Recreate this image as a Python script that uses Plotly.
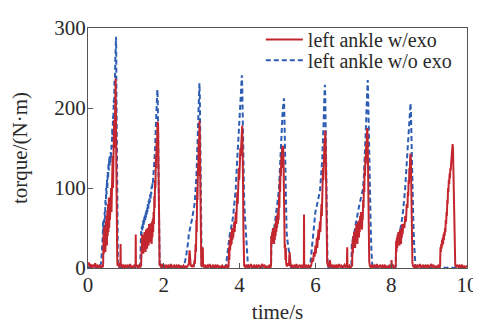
import plotly.graph_objects as go

# ---- data: (time s, torque N·m) ----
red_seg0 = [(0.00,3),(0.02,7),(0.04,1),(0.07,5),(0.10,0),(0.13,4),(0.16,1),(0.19,6),(0.22,0),(0.25,3),(0.28,1),(0.31,4),(0.34,0),(0.37,2),(0.39,1)]
red_step1 = [(0.40,5),(0.41,42),(0.42,18),(0.43,52),(0.44,25),(0.45,47),(0.46,20),(0.47,58),(0.48,30),(0.49,65),(0.50,28),(0.51,72),(0.52,40),(0.53,80),(0.54,45),(0.55,88),(0.56,50),(0.57,85),(0.58,60),(0.59,95),(0.60,62),(0.61,100),(0.62,70),(0.63,120),(0.64,85),(0.65,140),(0.66,100),(0.67,160),(0.68,120),(0.69,185),(0.70,150),(0.71,205),(0.72,170),(0.73,237),(0.735,200),(0.74,160),(0.75,110),(0.76,55),(0.77,15),(0.78,3)]
red_seg1 = [(0.80,6),(0.82,1),(0.84,4),(0.855,2),(0.86,30),(0.865,3),(0.88,5),(0.90,0),(0.93,3),(0.96,1),(0.99,4),(1.02,0),(1.05,3),(1.08,1),(1.11,5),(1.14,0),(1.17,2),(1.20,1),(1.23,4),(1.255,1),(1.26,42),(1.265,2),(1.29,3),(1.32,0),(1.35,4),(1.38,1)]
red_step2 = [(1.40,3),(1.41,38),(1.42,15),(1.43,42),(1.44,20),(1.45,35),(1.46,18),(1.47,40),(1.48,22),(1.49,45),(1.50,25),(1.51,38),(1.52,20),(1.53,48),(1.54,28),(1.55,42),(1.56,24),(1.57,50),(1.58,30),(1.59,45),(1.60,28),(1.61,55),(1.62,35),(1.63,50),(1.64,32),(1.65,56),(1.66,35),(1.67,55),(1.68,30),(1.69,58),(1.70,38),(1.71,62),(1.72,45),(1.73,70),(1.74,55),(1.75,90),(1.76,75),(1.77,110),(1.78,100),(1.79,140),(1.80,125),(1.81,160),(1.82,150),(1.83,175),(1.84,183),(1.85,178),(1.86,130),(1.87,70),(1.88,20),(1.89,4)]
red_seg2 = [(1.92,2),(1.95,5),(1.98,0),(2.01,3),(2.04,1),(2.07,4),(2.10,0),(2.13,3),(2.16,1),(2.19,5),(2.22,0),(2.25,2),(2.28,4),(2.31,0),(2.34,3),(2.37,1),(2.40,4),(2.43,0),(2.46,2),(2.49,1),(2.52,3),(2.55,0),(2.58,2),(2.61,1),(2.64,3)]
red_step3 = [(2.66,5),(2.68,22),(2.69,8),(2.70,18),(2.71,3),(2.74,2),(2.77,4),(2.79,1),(2.81,10),(2.82,5),(2.84,30),(2.85,20),(2.86,60),(2.87,45),(2.88,100),(2.89,85),(2.90,130),(2.91,115),(2.92,160),(2.93,150),(2.94,184),(2.95,170),(2.96,120),(2.97,60),(2.98,15),(2.99,3),(3.01,2),(3.02,5),(3.03,26),(3.035,3)]
red_seg3 = [(3.06,1),(3.09,4),(3.12,0),(3.15,3),(3.18,1),(3.21,5),(3.24,0),(3.27,2),(3.30,4),(3.33,0),(3.36,3),(3.39,1),(3.42,4),(3.45,0),(3.48,2),(3.51,1),(3.54,3),(3.57,0),(3.60,2),(3.63,1),(3.66,3),(3.69,0),(3.71,2)]
red_step4 = [(3.72,26),(3.73,10),(3.74,35),(3.75,22),(3.76,40),(3.77,28),(3.78,45),(3.79,30),(3.80,50),(3.81,35),(3.82,48),(3.83,38),(3.84,55),(3.85,40),(3.86,58),(3.87,45),(3.88,62),(3.89,50),(3.90,70),(3.91,55),(3.92,80),(3.93,65),(3.94,95),(3.95,80),(3.96,110),(3.97,95),(3.98,125),(3.99,110),(4.00,140),(4.01,125),(4.02,150),(4.03,140),(4.04,160),(4.05,150),(4.06,170),(4.07,178),(4.08,160),(4.09,110),(4.10,50),(4.11,12),(4.12,3)]
red_seg4 = [(4.15,1),(4.18,4),(4.21,0),(4.24,3),(4.27,1),(4.30,5),(4.33,0),(4.36,2),(4.39,4),(4.42,0),(4.45,3),(4.48,1),(4.51,4),(4.54,0),(4.57,2),(4.60,5),(4.63,1),(4.66,3),(4.69,0),(4.72,2),(4.75,1),(4.78,3),(4.81,0)]
red_step5 = [(4.83,3),(4.835,40),(4.85,30),(4.86,45),(4.87,32),(4.88,50),(4.89,35),(4.90,42),(4.91,30),(4.92,48),(4.93,35),(4.94,55),(4.95,40),(4.96,60),(4.97,45),(4.98,65),(4.99,50),(5.00,68),(5.01,55),(5.02,75),(5.03,60),(5.04,90),(5.05,75),(5.06,110),(5.07,95),(5.08,125),(5.09,115),(5.10,140),(5.11,125),(5.12,150),(5.13,140),(5.14,153),(5.15,150),(5.16,130),(5.17,90),(5.18,50),(5.19,25),(5.20,30),(5.21,10),(5.22,25),(5.23,5),(5.25,2),(5.28,6),(5.30,3),(5.32,20),(5.33,4),(5.35,1)]
red_seg5 = [(5.38,4),(5.41,0),(5.44,3),(5.47,1),(5.50,5),(5.53,0),(5.56,2),(5.59,4),(5.62,0),(5.65,3),(5.68,1),(5.695,2),(5.70,67),(5.705,2),(5.73,1),(5.76,4),(5.79,0),(5.82,3),(5.85,1),(5.88,2)]
red_step6 = [(5.90,6),(5.92,12),(5.94,8),(5.96,20),(5.98,14),(6.00,28),(6.01,18),(6.02,32),(6.03,22),(6.04,38),(6.05,25),(6.06,42),(6.07,30),(6.08,48),(6.09,35),(6.10,52),(6.11,40),(6.12,58),(6.13,45),(6.14,65),(6.15,55),(6.16,80),(6.17,65),(6.18,100),(6.19,85),(6.20,125),(6.21,110),(6.22,145),(6.23,130),(6.24,160),(6.25,150),(6.26,172),(6.27,160),(6.28,120),(6.29,70),(6.30,30),(6.31,8),(6.33,3),(6.36,2),(6.38,10),(6.39,4),(6.41,1)]
red_seg6 = [(6.44,3),(6.47,0),(6.50,4),(6.53,1),(6.56,3),(6.59,0),(6.62,5),(6.65,1),(6.68,3),(6.71,0),(6.74,2),(6.77,4),(6.80,1),(6.83,2),(6.84,26),(6.845,2),(6.87,0),(6.90,3),(6.93,1),(6.96,2)]
red_step7 = [(6.97,3),(6.98,34),(6.99,18),(7.00,40),(7.01,25),(7.02,45),(7.03,30),(7.04,38),(7.05,25),(7.06,50),(7.07,32),(7.08,55),(7.09,35),(7.10,45),(7.11,30),(7.12,58),(7.13,40),(7.14,52),(7.15,38),(7.16,60),(7.17,45),(7.18,65),(7.19,50),(7.20,70),(7.21,55),(7.22,62),(7.23,48),(7.24,68),(7.25,60),(7.26,85),(7.27,75),(7.28,105),(7.29,95),(7.30,125),(7.31,115),(7.32,140),(7.33,130),(7.34,155),(7.35,150),(7.36,170),(7.37,175),(7.38,160),(7.39,120),(7.40,70),(7.41,30),(7.42,8),(7.44,2),(7.47,1)]
red_seg7 = [(7.50,4),(7.53,0),(7.56,3),(7.59,1),(7.62,5),(7.65,0),(7.68,2),(7.71,4),(7.74,0),(7.77,3),(7.80,1),(7.83,4),(7.86,0),(7.89,2),(7.92,1),(7.95,3),(7.98,0),(8.00,2),(8.01,10),(8.02,1),(8.05,3),(8.08,0),(8.11,2)]
red_step8 = [(8.12,3),(8.13,34),(8.14,20),(8.15,38),(8.16,25),(8.17,42),(8.18,30),(8.19,45),(8.20,32),(8.21,40),(8.22,28),(8.23,48),(8.24,35),(8.25,44),(8.26,30),(8.27,50),(8.28,38),(8.29,55),(8.30,42),(8.31,48),(8.33,55),(8.35,50),(8.37,65),(8.39,58),(8.41,80),(8.43,75),(8.44,95),(8.45,90),(8.46,110),(8.47,105),(8.48,125),(8.49,120),(8.50,138),(8.51,143),(8.52,135),(8.53,100),(8.54,60),(8.55,25),(8.56,6),(8.58,2),(8.61,1)]
red_seg8 = [(8.64,4),(8.67,0),(8.70,3),(8.73,1),(8.76,5),(8.79,0),(8.82,2),(8.85,4),(8.88,0),(8.91,3),(8.94,1),(8.97,4),(9.00,0),(9.03,2),(9.06,5),(9.09,1),(9.12,3),(9.15,0),(9.18,2),(9.21,1),(9.24,3),(9.27,0)]
red_step9 = [(9.29,3),(9.30,26),(9.31,20),(9.32,30),(9.33,24),(9.34,35),(9.35,28),(9.36,38),(9.37,30),(9.38,42),(9.39,35),(9.40,45),(9.41,40),(9.42,50),(9.43,45),(9.44,60),(9.45,55),(9.46,70),(9.47,65),(9.48,85),(9.49,80),(9.50,100),(9.51,95),(9.52,110),(9.53,105),(9.54,118),(9.55,112),(9.56,125),(9.57,122),(9.58,130),(9.59,140),(9.60,148),(9.61,150),(9.62,155),(9.63,150),(9.64,130),(9.65,100),(9.66,70),(9.67,40),(9.68,15),(9.69,3)]
red_seg9 = [(9.72,2),(9.75,4),(9.78,0),(9.81,3),(9.84,1),(9.87,4),(9.90,0),(9.93,2),(9.96,1),(10.0,3)]

blue_seg0 = [(0.00,0),(0.05,2),(0.10,0),(0.15,1),(0.20,0),(0.25,2),(0.30,0),(0.33,3)]
blue_step1 = [(0.35,8),(0.37,20),(0.39,40),(0.40,58),(0.41,45),(0.42,60),(0.43,50),(0.44,70),(0.45,62),(0.46,85),(0.47,78),(0.48,100),(0.49,92),(0.50,110),(0.51,100),(0.52,120),(0.53,112),(0.54,130),(0.55,122),(0.56,138),(0.57,128),(0.58,140),(0.59,132),(0.60,145),(0.61,138),(0.62,155),(0.63,150),(0.64,175),(0.65,165),(0.66,190),(0.67,185),(0.68,210),(0.69,205),(0.70,235),(0.71,230),(0.72,260),(0.73,275),(0.74,289),(0.745,270),(0.75,220),(0.76,150),(0.77,70),(0.78,20),(0.79,3)]
blue_seg1 = [(0.82,0),(0.85,1),(0.90,0),(0.95,2),(1.00,0),(1.05,1),(1.10,0),(1.15,2),(1.20,0),(1.25,1),(1.30,0),(1.35,2)]
blue_step2 = [(1.38,5),(1.39,30),(1.40,46),(1.41,40),(1.42,52),(1.43,46),(1.44,56),(1.45,50),(1.46,60),(1.47,54),(1.48,63),(1.49,57),(1.50,66),(1.51,60),(1.52,69),(1.53,63),(1.54,72),(1.55,67),(1.56,76),(1.57,70),(1.58,80),(1.59,74),(1.60,84),(1.61,78),(1.62,88),(1.63,82),(1.64,92),(1.65,86),(1.66,96),(1.67,92),(1.68,102),(1.69,98),(1.70,106),(1.71,104),(1.72,112),(1.73,118),(1.74,128),(1.75,132),(1.76,140),(1.77,148),(1.78,165),(1.79,180),(1.80,195),(1.81,205),(1.82,215),(1.83,223),(1.84,210),(1.85,170),(1.86,110),(1.87,50),(1.88,10),(1.89,2)]
blue_seg2 = [(1.92,0),(1.95,1),(2.00,0),(2.05,2),(2.10,0),(2.15,1),(2.20,0),(2.25,2),(2.30,0),(2.35,1),(2.40,0),(2.45,2),(2.50,0)]
blue_step3 = [(2.53,3),(2.56,8),(2.59,15),(2.62,24),(2.64,32),(2.66,42),(2.68,48),(2.69,52),(2.70,50),(2.72,56),(2.74,60),(2.76,64),(2.78,68),(2.80,76),(2.82,84),(2.84,95),(2.85,104),(2.86,115),(2.87,128),(2.88,145),(2.89,160),(2.90,178),(2.91,195),(2.92,210),(2.93,222),(2.94,231),(2.95,215),(2.96,170),(2.97,110),(2.98,55),(2.99,15),(3.00,3)]
blue_seg3 = [(3.03,0),(3.08,1),(3.13,0),(3.18,2),(3.23,0),(3.28,1),(3.33,0),(3.38,2),(3.43,0),(3.48,1),(3.53,0),(3.58,2),(3.62,0)]
blue_step4 = [(3.64,3),(3.66,10),(3.68,20),(3.70,30),(3.72,38),(3.74,42),(3.76,46),(3.78,50),(3.80,56),(3.82,62),(3.84,70),(3.86,78),(3.88,86),(3.90,100),(3.91,112),(3.92,123),(3.93,132),(3.94,140),(3.95,148),(3.96,155),(3.97,160),(3.98,170),(3.99,180),(4.00,188),(4.01,196),(4.02,205),(4.03,214),(4.04,226),(4.05,236),(4.06,241),(4.07,225),(4.08,190),(4.09,150),(4.10,115),(4.12,85),(4.14,65),(4.16,45),(4.18,25),(4.20,10),(4.22,3)]
blue_seg4 = [(4.25,0),(4.30,1),(4.35,0),(4.40,2),(4.45,0),(4.50,1),(4.55,0),(4.60,2),(4.65,0),(4.70,1),(4.75,0),(4.80,2)]
blue_step5 = [(4.83,3),(4.84,38),(4.86,42),(4.88,48),(4.90,45),(4.92,52),(4.94,58),(4.96,65),(4.98,72),(5.00,80),(5.02,90),(5.04,100),(5.05,112),(5.06,125),(5.07,140),(5.08,150),(5.09,158),(5.10,165),(5.11,172),(5.12,180),(5.13,190),(5.14,198),(5.15,205),(5.16,210),(5.17,212),(5.18,195),(5.19,160),(5.20,120),(5.21,85),(5.22,60),(5.24,45),(5.26,35),(5.28,30),(5.30,25),(5.32,15),(5.34,5)]
blue_seg5 = [(5.36,0),(5.41,1),(5.46,0),(5.51,2),(5.56,0),(5.61,1),(5.66,0),(5.71,2),(5.76,0),(5.81,1),(5.84,0)]
blue_step6 = [(5.86,2),(5.88,12),(5.90,25),(5.92,38),(5.94,50),(5.96,58),(5.98,64),(6.00,70),(6.02,74),(6.04,80),(6.06,84),(6.08,88),(6.10,92),(6.12,96),(6.14,108),(6.16,118),(6.17,123),(6.18,135),(6.19,148),(6.20,158),(6.21,165),(6.22,185),(6.23,205),(6.24,220),(6.25,229),(6.26,215),(6.27,175),(6.28,130),(6.29,85),(6.30,45),(6.31,15),(6.32,3)]
blue_seg6 = [(6.35,0),(6.40,1),(6.45,0),(6.50,2),(6.55,0),(6.60,1),(6.65,0),(6.70,2),(6.75,0),(6.80,1),(6.85,0),(6.90,2),(6.94,0)]
blue_step7 = [(6.95,2),(6.96,30),(6.98,34),(7.00,36),(7.02,42),(7.04,48),(7.06,54),(7.08,60),(7.10,66),(7.12,70),(7.14,74),(7.16,79),(7.18,83),(7.20,88),(7.22,92),(7.24,96),(7.26,100),(7.28,115),(7.29,125),(7.30,132),(7.31,140),(7.32,155),(7.33,170),(7.34,184),(7.35,200),(7.36,215),(7.37,228),(7.38,235),(7.39,220),(7.40,190),(7.42,140),(7.44,90),(7.46,50),(7.48,20),(7.50,5)]
blue_seg7 = [(7.53,0),(7.58,1),(7.63,0),(7.68,2),(7.73,0),(7.78,1),(7.83,0),(7.88,2),(7.93,0),(7.98,1),(8.03,0),(8.08,2),(8.11,0)]
blue_step8 = [(8.12,2),(8.13,28),(8.15,30),(8.17,32),(8.19,35),(8.21,40),(8.23,45),(8.25,50),(8.27,55),(8.29,62),(8.31,70),(8.33,78),(8.35,88),(8.37,100),(8.39,116),(8.40,125),(8.41,132),(8.42,140),(8.43,148),(8.44,155),(8.45,163),(8.46,170),(8.47,176),(8.48,184),(8.49,192),(8.50,200),(8.51,206),(8.52,195),(8.53,165),(8.54,135),(8.56,95),(8.58,65),(8.60,34),(8.62,10),(8.64,2)]
blue_seg8 = [(8.67,0),(8.75,1),(8.85,0),(8.95,1),(9.05,0),(9.15,1),(9.25,0),(9.35,1),(9.45,0),(9.55,1),(9.65,0),(9.75,1),(9.85,0),(10.0,1)]

red_parts = [red_seg0, red_step1, red_seg1, red_step2, red_seg2, red_step3, red_seg3,
             red_step4, red_seg4, red_step5, red_seg5, red_step6, red_seg6, red_step7,
             red_seg7, red_step8, red_seg8, red_step9, red_seg9]
blue_parts = [blue_seg0, blue_step1, blue_seg1, blue_step2, blue_seg2, blue_step3, blue_seg3,
              blue_step4, blue_seg4, blue_step5, blue_seg5, blue_step6, blue_seg6, blue_step7,
              blue_seg7, blue_step8, blue_seg8]

red_pts = [p for part in red_parts for p in part]
blue_pts = [p for part in blue_parts for p in part]

x_ticks = [0, 2, 4, 6, 8, 10]
y_ticks = [0, 100, 200, 300]

RED = "#c3262e"
BLUE = "#2c5db3"
FONT = "Liberation Serif, Times New Roman, serif"
TXT = "#2a2a2a"

fig = go.Figure()
fig.add_trace(go.Scatter(
    x=[p[0] for p in blue_pts], y=[p[1] for p in blue_pts],
    mode="lines", name="left ankle w/o exo", legend="legend2",
    line=dict(color=BLUE, width=2, dash="5px,3px"),
))
fig.add_trace(go.Scatter(
    x=[p[0] for p in red_pts], y=[p[1] for p in red_pts],
    mode="lines", name="left ankle w/exo", legend="legend",
    line=dict(color=RED, width=2),
))

axis_common = dict(
    showline=True, linecolor="#555555", linewidth=1, mirror=True,
    ticks="inside", ticklen=5, tickcolor="#555555", showgrid=False, zeroline=False,
    tickfont=dict(family=FONT, size=21, color=TXT), automargin=False,
)

legend_common = dict(xanchor="left", x=0.456, yanchor="middle",
                     bgcolor="rgba(0,0,0,0)", font=dict(family=FONT, size=20, color=TXT),
                     itemwidth=37)

# the page body adds an 8px offset, so the figure is sized to fit the 481x325 window
fig.update_layout(
    width=473, height=317,
    margin=dict(l=80, r=14, t=14, b=57),
    paper_bgcolor="white", plot_bgcolor="white",
    font=dict(family=FONT, size=20, color=TXT),
    showlegend=True,
    legend=dict(y=0.952, **legend_common),
    legend2=dict(y=0.866, **legend_common),
    xaxis=dict(range=[0, 10], tickvals=x_ticks, ticklabelstandoff=-2,
               title=dict(text="time/s", font=dict(family=FONT, size=21, color=TXT), standoff=8),
               **axis_common),
    yaxis=dict(range=[0, 300], tickvals=y_ticks, ticklabelstandoff=-3,
               title=dict(text="torque/(N·m)", font=dict(family=FONT, size=21, color=TXT), standoff=22),
               **axis_common),
)

fig.write_html("out.html")
